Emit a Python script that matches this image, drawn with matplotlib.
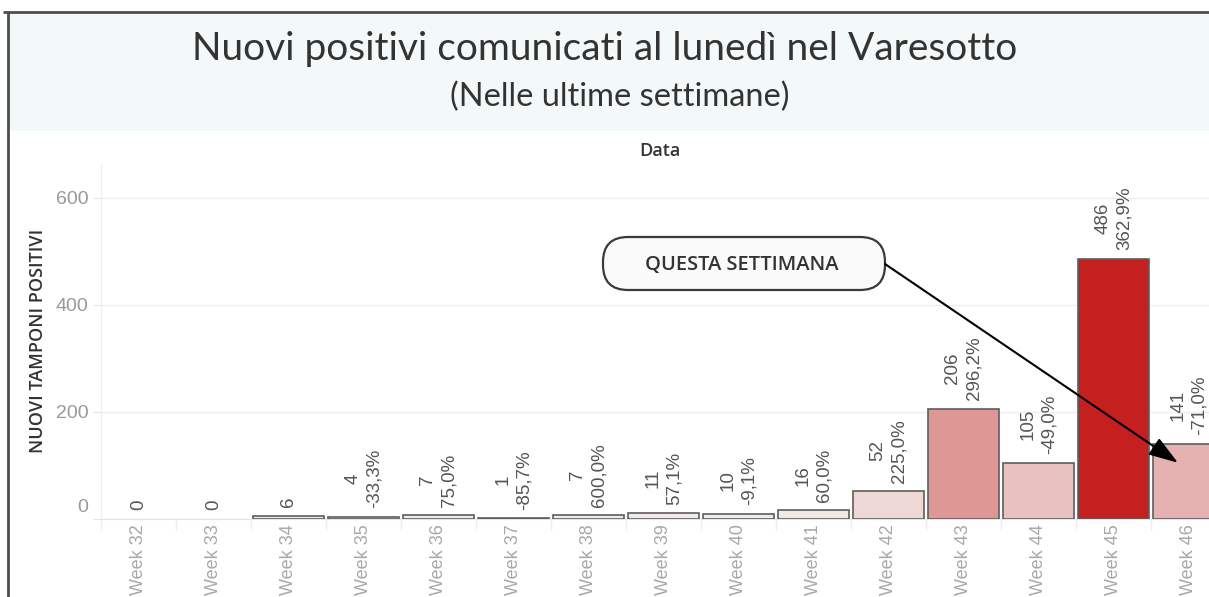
import matplotlib.pyplot as plt
import numpy as np
from matplotlib.colors import LinearSegmentedColormap
from matplotlib.patches import FancyBboxPatch, Rectangle
from matplotlib.transforms import ScaledTranslation

settimane = ["Week 32", "Week 33", "Week 34", "Week 35", "Week 36", "Week 37", "Week 38",
             "Week 39", "Week 40", "Week 41", "Week 42", "Week 43", "Week 44", "Week 45",
             "Week 46"]
positivi = [0, 0, 6, 4, 7, 1, 7, 11, 10, 16, 52, 206, 105, 486, 141]
variazione = ["", "", "", "-33,3%", "75,0%", "-85,7%", "600,0%", "57,1%", "-9,1%", "60,0%",
              "225,0%", "296,2%", "-49,0%", "362,9%", "-71,0%"]

plt.rcParams['font.family'] = ['Liberation Sans', 'DejaVu Sans']

W, H = 1209, 597
fig = plt.figure(figsize=(W / 100, H / 100), dpi=100)
fig.patch.set_facecolor('white')

# asse principale
ax = fig.add_axes([101 / W, 78 / H, 1125 / W, 356 / H])
x = np.arange(len(positivi))
cmap = LinearSegmentedColormap.from_list('rossi', ['#f2eeec', '#c4201f'])
colori = cmap(np.array(positivi) / max(positivi))
spessori = [1.2 if v > 0 else 0 for v in positivi]
ax.bar(x, positivi, width=0.95, color=colori, edgecolor='#5e5e5e', linewidth=spessori, zorder=3)

for i, (v, p) in enumerate(zip(positivi, variazione)):
    testo = f"{v}\n{p}" if p else f"{v}"
    ax.text(i, v + 16, testo, rotation=90, ha='center', va='bottom', fontsize=13.5,
            color='#555555', linespacing=1.35, zorder=4)

ax.set_xlim(-0.5, len(positivi) - 0.5)
ax.set_ylim(0, 665)
ax.set_yticks([0, 200, 400, 600])
ax.set_yticklabels(['0', '200', '400', '600'])
ax.set_xticks(x)
ax.set_xticklabels(settimane, rotation=90, va='top', ha='center')
ax.tick_params(axis='y', length=6, color='#e6e6e6', labelsize=14, labelcolor='#999999', pad=3)
ax.tick_params(axis='x', length=0, labelsize=13, labelcolor='#a8a8a8', pad=4)
ax.set_xticks(np.arange(len(positivi) + 1) - 0.5, minor=True)
ax.tick_params(axis='x', which='minor', length=8, color='#eeeeee', width=1)
# lo zero dell'asse y e' sollevato come nell'originale
zero = ax.get_yticklabels()[0]
zero.set_transform(zero.get_transform() + ScaledTranslation(0, 0.13, fig.dpi_scale_trans))
ax.grid(axis='y', color='#efefef', linewidth=1, zorder=0)
for s in ['top', 'right']:
    ax.spines[s].set_visible(False)
ax.spines['left'].set_color('#eeeeee')
ax.spines['bottom'].set_color('#e6e6e6')
ax.set_ylabel('NUOVI TAMPONI POSITIVI', fontsize=13, color='#333333', labelpad=6,
              family=['Open Sans', 'DejaVu Sans'], fontweight='semibold')
ax.set_facecolor('none')

# livello sovrapposto per titolo, cornice e annotazione
ov = fig.add_axes([0, 0, 1, 1], zorder=5)
ov.set_xlim(0, W)
ov.set_ylim(H, 0)
ov.axis('off')
ov.patch.set_alpha(0)

ov.add_patch(Rectangle((8, 12), W, 119, facecolor='#f3f8f8', edgecolor='none'))
ov.plot([3, W], [11.5, 11.5], color='#4d4d4d', linewidth=2, solid_capstyle='butt')
ov.plot([7.5, 7.5], [11, H], color='#4d4d4d', linewidth=2, solid_capstyle='butt')

ov.text(605, 49, 'Nuovi positivi comunicati al lunedì nel Varesotto', ha='center',
        va='center', fontsize=28, color='#333333', family=['Lato', 'DejaVu Sans'])
ov.text(620, 97, '(Nelle ultime settimane)', ha='center', va='center', fontsize=23.5,
        color='#333333', family=['Lato', 'DejaVu Sans'])
ov.text(660, 151, 'Data', ha='center', va='center', fontsize=13, color='#333333',
        family=['Open Sans', 'DejaVu Sans'], fontweight='semibold')

ov.add_patch(FancyBboxPatch((603, 237), 282, 53,
                            boxstyle='round,pad=0,rounding_size=25',
                            facecolor='#fafafa', edgecolor='#3a3a3a', linewidth=1.6))
ov.text(742, 265, 'QUESTA SETTIMANA', ha='center', va='center', fontsize=14.5,
        color='#333333', family=['Open Sans', 'DejaVu Sans'], fontweight='semibold')
ov.annotate('', xy=(13.86, 105), xycoords=ax.transData, xytext=(885, 264),
            textcoords='data',
            arrowprops=dict(arrowstyle='-|>,head_length=0.9,head_width=0.3',
                            mutation_scale=20, color='black', linewidth=1.5,
                            shrinkA=0, shrinkB=0))

fig.savefig('out.png', dpi=100)
